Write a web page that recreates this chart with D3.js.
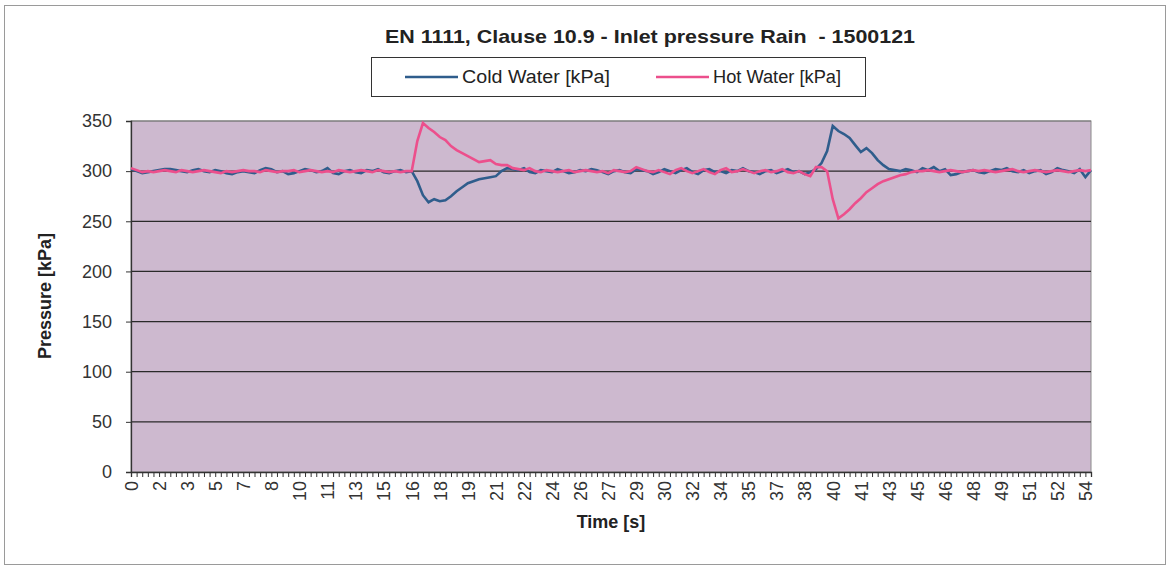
<!DOCTYPE html>
<html>
<head>
<meta charset="utf-8">
<script src="https://cdn.jsdelivr.net/npm/d3@7"></script>
<style>
  body { margin: 0; background: #fff; }
  svg { font-family: "Liberation Sans", Arial, sans-serif; }
</style>
</head>
<body>
<svg id="chart" width="1168" height="569"></svg>
<script>
// time labels shown on the axis (every 5th sample)
var timeLabels = ["0","2","3","5","7","8","10","11","13","15","16","18","19","21","22","24","26","27",
  "29","30","32","34","35","37","38","40","41","43","45","46","48","49","51","52","54"];

var coldWater = [
  302,300,298,299,300,301,302,302,301,300,
  299,301,302,300,299,301,300,298,297,299,
  300,299,298,301,303,302,299,300,297,298,
  300,302,301,299,300,303,298,297,300,301,
  299,298,301,300,302,299,298,300,301,299,
  300,290,276,269,272,270,271,275,280,284,288,290,292,293,294,295,300,303,302,301,303,299,
  298,301,300,299,302,300,298,299,301,300,
  302,301,299,297,300,301,299,298,302,301,
  300,297,299,302,300,298,301,303,299,297,
  301,302,299,300,298,301,300,303,300,299,
  297,300,301,298,300,302,299,300,297,299,
  302,308,320,345,340,337,333,326,319,323,318,311,306,302,301,
  300,302,301,299,303,301,304,300,302,296,
  297,299,300,301,299,298,300,302,301,303,
  300,299,301,298,300,301,297,299,303,301,
  300,298,302,294,301
];

var hotWater = [
  303,301,299,300,299,300,301,300,299,301,
  300,299,300,301,300,299,298,300,299,300,
  301,300,300,299,301,300,299,300,300,301,
  299,300,301,300,299,300,299,301,300,299,
  300,301,300,299,301,300,299,300,299,300,
  300,330,348,343,339,334,331,325,321,318,315,312,309,310,311,307,306,306,303,302,301,303,
  300,299,301,300,299,300,301,299,300,301,
  300,299,300,298,301,300,299,300,304,302,
  300,299,301,299,297,301,303,300,298,300,
  302,299,297,301,303,299,300,302,300,298,
  300,301,299,300,302,299,298,
  300,297,295,304,304,300,272,253,257,262,268,273,279,283,287,290,292,294,296,297,299,300,300,
  301,300,299,300,301,300,299,300,301,300,
  301,300,299,300,301,302,300,299,300,301,
  300,299,300,301,300,299,300,301,300,301
];

var yTicks = [0, 50, 100, 150, 200, 250, 300, 350];

var svg = d3.select("#chart");

// outer frame
svg.append("rect")
  .attr("x", 4.5).attr("y", 5.5)
  .attr("width", 1161).attr("height", 559)
  .attr("fill", "#fff")
  .attr("stroke", "#9a9a9a");

var margin = {left: 131, right: 1091, top: 121, bottom: 472};

var x = d3.scalePoint()
  .domain(d3.range(coldWater.length))
  .range([margin.left, margin.right]);

var y = d3.scaleLinear()
  .domain([0, 350])
  .range([margin.bottom, margin.top]);

// plot area
svg.append("rect")
  .attr("x", margin.left).attr("y", margin.top)
  .attr("width", margin.right - margin.left)
  .attr("height", margin.bottom - margin.top)
  .attr("fill", "#cdb9cf")
  .attr("stroke", "#8a8a8a");

// grid lines
svg.append("g")
  .selectAll("line")
  .data(yTicks.filter(function(d) { return d > 0; }))
  .enter().append("line")
  .attr("x1", margin.left).attr("x2", margin.right)
  .attr("y1", function(d) { return y(d); })
  .attr("y2", function(d) { return y(d); })
  .attr("stroke", function(d) { return d == 350 ? "#777" : "#2a2a2a"; })
  .attr("stroke-width", 1.2);

// y axis
var yAxis = svg.append("g")
  .attr("transform", "translate(" + margin.left + ",0)")
  .call(d3.axisLeft(y).tickValues(yTicks).tickSize(5).tickPadding(14));
yAxis.select(".domain").attr("stroke", "#333").attr("stroke-width", 1.3);
yAxis.selectAll(".tick line").attr("stroke", "#333");
yAxis.selectAll("text")
  .attr("font-size", 18)
  .attr("fill", "#333")
  .style("font-family", "Liberation Sans, Arial, sans-serif");

// x axis
var xAxis = svg.append("g")
  .attr("transform", "translate(0," + margin.bottom + ")")
  .call(d3.axisBottom(x)
    .tickSize(5)
    .tickFormat(function(d) { return d % 5 == 0 ? timeLabels[d / 5] : ""; }));
xAxis.select(".domain").attr("stroke", "#333").attr("stroke-width", 1.3);
xAxis.selectAll(".tick line").attr("stroke", "#333");
xAxis.selectAll("text")
  .attr("font-size", 18)
  .attr("fill", "#333")
  .style("font-family", "Liberation Sans, Arial, sans-serif")
  .attr("text-anchor", "end")
  .attr("dy", "0.35em")
  .attr("transform", "translate(0,1) rotate(-90)")
  .attr("x", -8).attr("y", 0);

// lines
var line = d3.line()
  .x(function(d, i) { return x(i); })
  .y(function(d) { return y(d); });

svg.append("path")
  .datum(coldWater)
  .attr("fill", "none")
  .attr("stroke", "#2f5d8c")
  .attr("stroke-width", 2.6)
  .attr("d", line);

svg.append("path")
  .datum(hotWater)
  .attr("fill", "none")
  .attr("stroke", "#ec4f8c")
  .attr("stroke-width", 2.6)
  .attr("d", line);

// title
svg.append("text")
  .attr("x", 385).attr("y", 43)
  .attr("font-size", 19)
  .attr("font-weight", "bold")
  .attr("fill", "#222")
  .attr("textLength", 530)
  .attr("lengthAdjust", "spacingAndGlyphs")
  .style("white-space", "pre")
  .text("EN 1111, Clause 10.9 - Inlet pressure Rain  - 1500121");

// legend
var legend = svg.append("g");
legend.append("rect")
  .attr("x", 371.5).attr("y", 57.5)
  .attr("width", 494).attr("height", 39)
  .attr("fill", "#fff")
  .attr("stroke", "#333");

var legendItems = [
  {name: "Cold Water [kPa]", color: "#2f5d8c", x: 405, w: 148},
  {name: "Hot Water [kPa]", color: "#ec4f8c", x: 656, w: 128}
];
var li = legend.selectAll(".li")
  .data(legendItems)
  .enter().append("g")
  .attr("class", "li")
  .attr("transform", function(d) { return "translate(" + d.x + ",77)"; });
li.append("line")
  .attr("x1", 0).attr("x2", 53)
  .attr("stroke", function(d) { return d.color; })
  .attr("stroke-width", 2.5);
li.append("text")
  .attr("x", 57).attr("dy", "0.35em")
  .attr("font-size", 18)
  .attr("fill", "#222")
  .attr("textLength", function(d) { return d.w; })
  .attr("lengthAdjust", "spacingAndGlyphs")
  .text(function(d) { return d.name; });

// axis titles
svg.append("text")
  .attr("transform", "translate(51,296) rotate(-90)")
  .attr("text-anchor", "middle")
  .attr("font-size", 18)
  .attr("font-weight", "bold")
  .attr("fill", "#222")
  .text("Pressure [kPa]");

svg.append("text")
  .attr("x", 611).attr("y", 528)
  .attr("text-anchor", "middle")
  .attr("font-size", 18)
  .attr("font-weight", "bold")
  .attr("fill", "#222")
  .text("Time [s]");
</script>
</body>
</html>
